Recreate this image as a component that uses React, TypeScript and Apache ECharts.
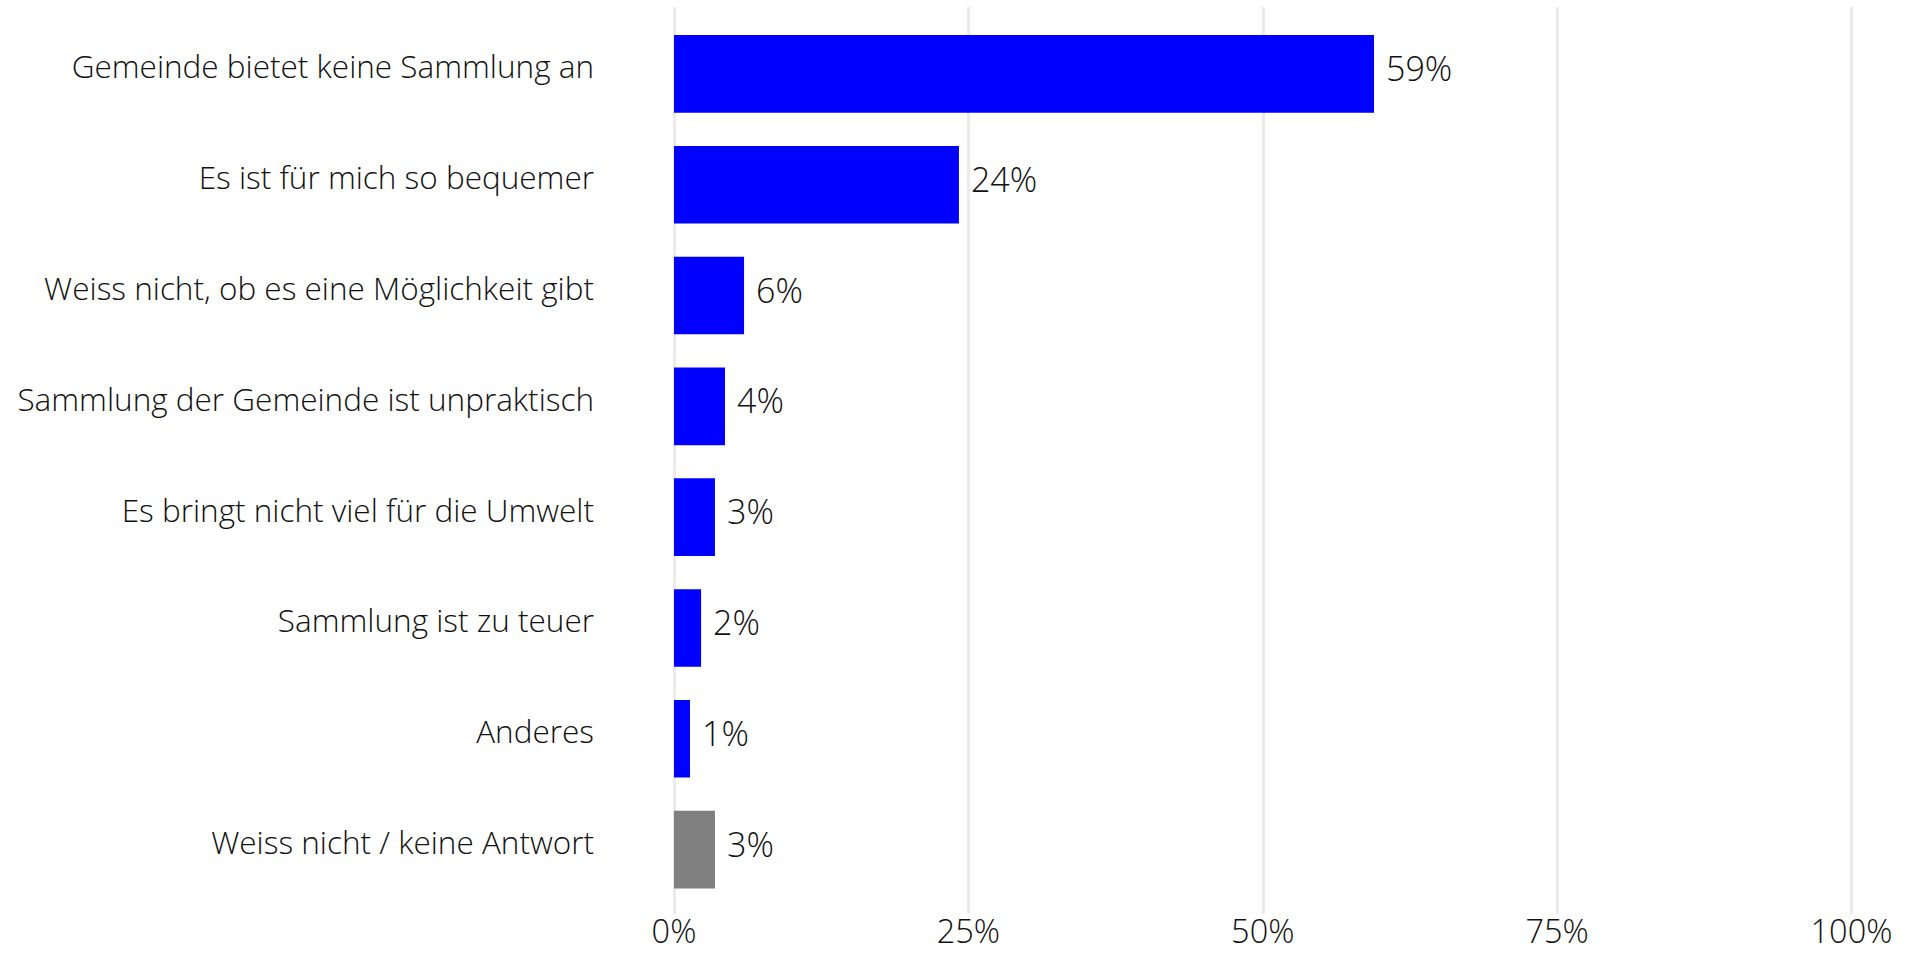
import React, { useEffect, useRef } from "react";
import * as echarts from "echarts";

const categories = [
  "Gemeinde bietet keine Sammlung an",
  "Es ist für mich so bequemer",
  "Weiss nicht, ob es eine Möglichkeit gibt",
  "Sammlung der Gemeinde ist unpraktisch",
  "Es bringt nicht viel für die Umwelt",
  "Sammlung ist zu teuer",
  "Anderes",
  "Weiss nicht / keine Antwort",
];
const values = [59.45, 24.2, 5.95, 4.33, 3.48, 2.3, 1.36, 3.48];
const noAnswerCategory = "Weiss nicht / keine Antwort";
const xTicks = [0, 25, 50, 75, 100];

const FONT = "'Open Sans', 'Noto Sans', sans-serif";
const BLUE = "#0000ff";
const GRAY = "#808080";
const TEXT = "#111111";

export default function App() {
  const ref = useRef<HTMLDivElement>(null);
  useEffect(() => {
    if (!ref.current) return;
    const chart = echarts.init(ref.current, undefined, { renderer: "svg" });
    const left = 674;
    const right = 1915 - 1851.5;
    chart.setOption({
      animation: false,
      backgroundColor: "#ffffff",
      textStyle: { fontFamily: FONT },
      grid: [
        { left, right, top: 7, height: 907 },
        { left, right, top: 18.5, height: 886.5 },
      ],
      xAxis: [
        {
          gridIndex: 0,
          type: "value",
          min: 0,
          max: 100,
          interval: 25,
          axisLine: { show: false },
          axisTick: { show: false },
          splitLine: { show: true, lineStyle: { color: "#ebebeb", width: 3 } },
          axisLabel: {
            margin: 16,
            fontSize: 32.5,
            fontWeight: 300,
            fontFamily: FONT,
            color: TEXT,
            verticalAlign: "middle",
            lineHeight: 30,
            formatter: (v: number) => (xTicks.includes(v) ? `${v}%` : ""),
          },
        },
        {
          gridIndex: 1,
          type: "value",
          min: 0,
          max: 100,
          show: false,
        },
      ],
      yAxis: [
        {
          gridIndex: 0,
          type: "category",
          data: categories,
          show: false,
        },
        {
          gridIndex: 1,
          type: "category",
          data: categories,
          inverse: true,
          axisLine: { show: false },
          axisTick: { show: false },
          splitLine: { show: false },
          axisLabel: {
            margin: 80,
            fontSize: 31.5,
            fontWeight: 300,
            fontFamily: FONT,
            color: TEXT,
            verticalAlign: "bottom",
            lineHeight: 16,
          },
        },
      ],
      series: [
        {
          type: "bar",
          xAxisIndex: 1,
          yAxisIndex: 1,
          barCategoryGap: "30%",
          data: values.map((v, i) => ({
            value: v,
            itemStyle: { color: categories[i] === noAnswerCategory ? GRAY : BLUE },
          })),
          label: {
            show: true,
            position: "right",
            distance: 12,
            fontSize: 34,
            fontWeight: 300,
            fontFamily: FONT,
            color: TEXT,
            verticalAlign: "bottom",
            lineHeight: 12,
            formatter: (p: any) => `${Math.round(p.value)}%`,
          },
        },
      ],
    });
    return () => chart.dispose();
  }, []);
  return (
    <div
      ref={ref}
      style={{ position: "fixed", left: 0, top: 0, width: 1915, height: 953 }}
    />
  );
}
